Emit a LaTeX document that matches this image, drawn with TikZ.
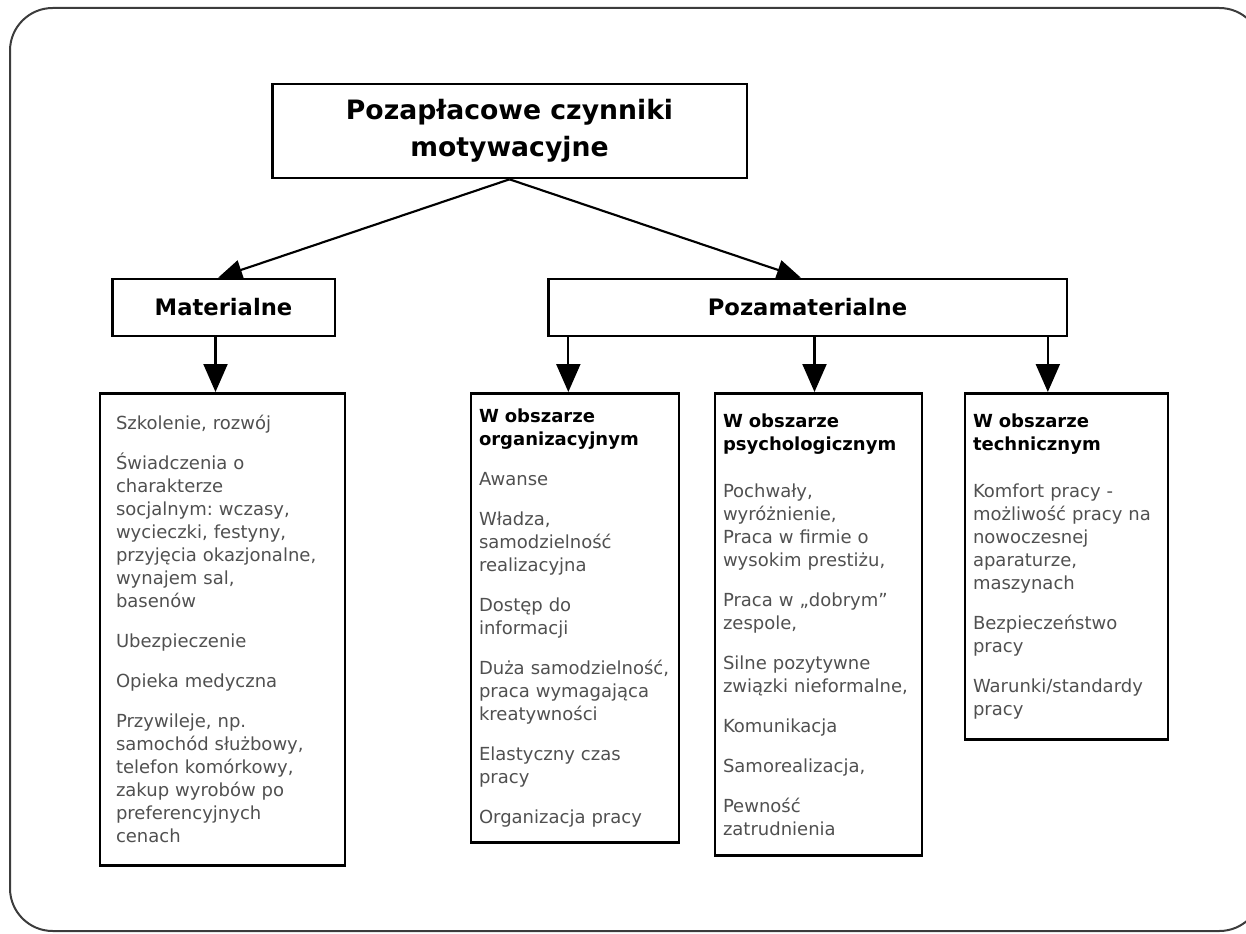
\documentclass[tikz,border=0pt]{standalone}
\usepackage{fontspec}
\setmainfont{DejaVu Sans}
\usetikzlibrary{arrows.meta}
\definecolor{txtgray}{RGB}{80,80,80}
\definecolor{framegray}{RGB}{60,60,60}
\frenchspacing

\begin{document}
\begin{tikzpicture}[x=0.75pt,y=-0.75pt,
  box/.style={draw, line width=2pt, rectangle},
  headbox/.style={box, font=\bfseries\fontsize{17}{20}\selectfont, minimum height=42.75pt},
  listbox/.style={box, anchor=north, align=left, inner xsep=6pt, text=txtgray,
    font=\fontsize{13.5}{17.25}\selectfont},
  arr/.style={line width=1.6pt, -{Triangle[length=18pt,width=15pt]}},
  darr/.style={line width=1.6pt, -{Triangle[length=21pt,width=18pt]}}]
\clip (0,0) rectangle (1246,934);
\draw[line width=1.5pt, framegray, rounded corners=32pt] (10,8) rectangle (1262,931);

\node[box, minimum width=356pt, minimum height=70.5pt, align=center,
  font=\bfseries\fontsize{20}{27.75}\selectfont] (top) at (509.5,131) {Pozapłacowe czynniki\\motywacyjne};
\node[headbox, minimum width=167pt] (mat) at (223.5,307.5) {Materialne};
\node[headbox, minimum width=389pt] (pozamat) at (807.5,307.5) {Pozamaterialne};

\node[listbox, inner xsep=12pt, text width=159.75pt, minimum height=354pt] (matlist) at (222.5,392)
  {Szkolenie, rozwój\\[12.75pt]
   Świadczenia o\\ charakterze\\ socjalnym: wczasy,\\ wycieczki, festyny,\\ przyjęcia okazjonalne,\\ wynajem sal,\\ basenów\\[12.75pt]
   Ubezpieczenie\\[12.75pt]
   Opieka medyczna\\[12.75pt]
   Przywileje, np.\\ samochód służbowy,\\ telefon komórkowy,\\ zakup wyrobów po\\ preferencyjnych\\ cenach};
\node[listbox, text width=144pt, minimum height=336.75pt] (org) at (575,392)
  {\textcolor{black}{\bfseries W obszarze}\\ \textcolor{black}{\bfseries organizacyjnym}\\[12.75pt]
   Awanse\\[12.75pt]
   Władza,\\ samodzielność\\ realizacyjna\\[12.75pt]
   Dostęp do\\ informacji\\[12.75pt]
   Duża samodzielność,\\ praca wymagająca\\ kreatywności\\[12.75pt]
   Elastyczny czas\\ pracy\\[12.75pt]
   Organizacja pracy};
\node[listbox, text width=143.25pt, minimum height=346.5pt] (psych) at (818.5,392)
  {\textcolor{black}{\bfseries W obszarze}\\ \textcolor{black}{\bfseries psychologicznym}\\[18pt]
   Pochwały,\\ wyróżnienie,\\ Praca w firmie o\\ wysokim prestiżu,\\[12.75pt]
   Praca w „dobrym”\\ zespole,\\[12.75pt]
   Silne pozytywne\\ związki nieformalne,\\[12.75pt]
   Komunikacja\\[12.75pt]
   Samorealizacja,\\[12.75pt]
   Pewność\\ zatrudnienia};
\node[listbox, text width=140.25pt, minimum height=259.5pt] (tech) at (1066.5,392)
  {\textcolor{black}{\bfseries W obszarze}\\ \textcolor{black}{\bfseries technicznym}\\[18pt]
   Komfort pracy -\\ możliwość pracy na\\ nowoczesnej\\ aparaturze,\\ maszynach\\[12.75pt]
   Bezpieczeństwo\\ pracy\\[12.75pt]
   Warunki/standardy\\ pracy};

% strzalki
\draw[arr] (top.south) -- ([xshift=-4pt]mat.north);
\draw[arr] (top.south) -- ([xshift=-5pt]pozamat.north);
\draw[darr] ([xshift=-6pt]mat.south) -- ([xshift=-6pt]mat.south |- matlist.north);
\draw[darr] ([xshift=-5pt]pozamat.south -| org.north) -- ([xshift=-5pt]org.north);
\draw[darr] ([xshift=-3pt]pozamat.south -| psych.north) -- ([xshift=-3pt]psych.north);
\draw[darr] ([xshift=-14pt]pozamat.south -| tech.north) -- ([xshift=-14pt]tech.north);
\end{tikzpicture}
\end{document}
